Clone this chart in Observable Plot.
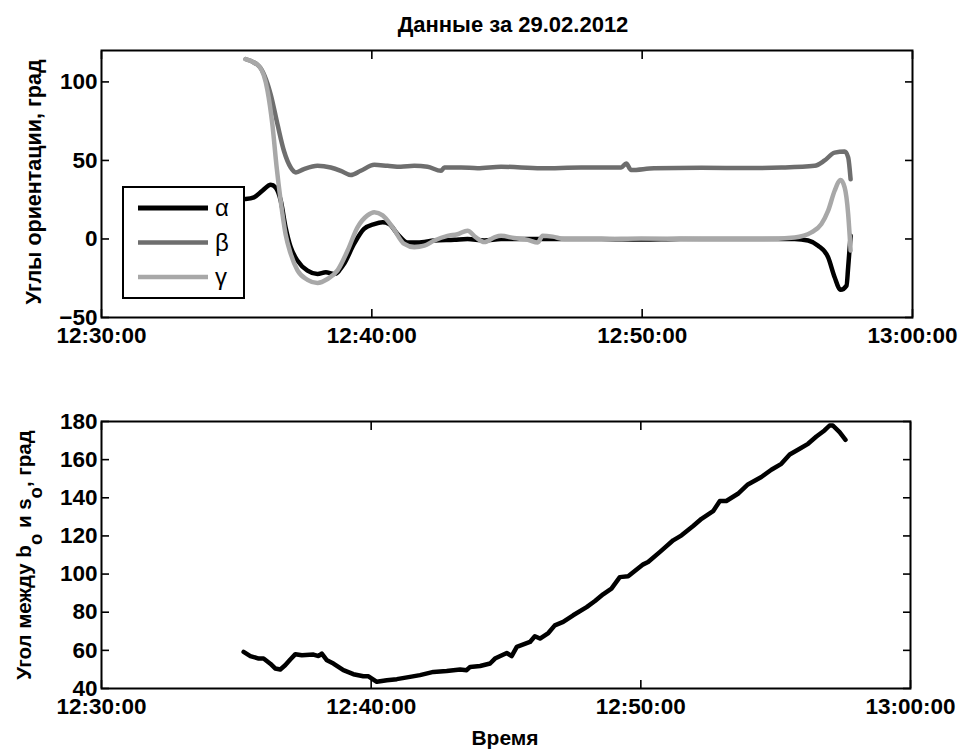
<!DOCTYPE html>
<html>
<head>
<meta charset="utf-8">
<script src="https://cdn.jsdelivr.net/npm/d3@7"></script>
<script src="https://cdn.jsdelivr.net/npm/@observablehq/plot@0.6"></script>
<style>
  html, body { margin: 0; padding: 0; background: #fff; }
  #wrap { position: relative; width: 960px; height: 751px; font-family: "Liberation Sans", Arial, sans-serif; overflow: hidden; }
  .abs { position: absolute; }
  #title { left: 0; width: 1026px; top: 12px; text-align: center; font-weight: bold; font-size: 22px; }
  #xlabel { left: 0; width: 1010px; top: 726px; text-align: center; font-weight: bold; font-size: 21px; }
  #legend { left: 122px; top: 186px; width: 119px; height: 109px; border: 2px solid #000; background: #fff; }
</style>
</head>
<body>
<div id="wrap">
  <div id="title" class="abs">Данные за 29.02.2012</div>
  <div id="p1" class="abs" style="left:0;top:0"></div>
  <div id="p2" class="abs" style="left:0;top:370px"></div>
  <div id="legend" class="abs"></div>
  <div id="xlabel" class="abs">Время</div>
</div>
<script>
// ---- data (time as minutes after 12:30:00) ----
const startTime = "2012-02-29T12:30:00Z";
const endTime = "2012-02-29T13:00:00Z";
const xTickMinutes = [0, 10, 20, 30];
const topYTicks = [-50, 0, 50, 100];
const bottomYTicks = [40, 60, 80, 100, 120, 140, 160, 180];

const seriesNames = ["α", "β", "γ"];
const seriesColors = ["#000000", "#6e6e6e", "#a8a8a8"];

const alphaT = [5.33,5.64,5.95,6.26,6.44,6.63,6.81,7.0,7.25,7.62,7.99,8.30,8.60,8.97,9.34,9.71,10.09,10.40,10.64,10.95,11.32,11.69,12.31,13.05,13.54,14.16,14.78,15.77,17.1,18.5,20.0,21.4,22.9,24.4,25.64,26.14,26.51,26.88,27.12,27.34,27.56,27.62,27.71];
const alphaV = [25.4,26.5,30.7,34.5,32.8,24.4,7.4,-5.3,-13.8,-20.2,-22.3,-21.2,-22.3,-15.9,-3.2,6.4,9.5,10.6,9.5,3.2,-2.2,-2.2,-1,-0.5,0,-1,0,0,0,0,-0.3,0,0,0,0,-1,-4.3,-11.7,-24.4,-32.4,-29.7,-18,2];

const betaT = [5.33,5.83,6.26,6.51,6.75,7.0,7.19,7.49,7.99,8.48,8.85,9.22,9.59,10.09,10.58,11.07,11.57,12.06,12.56,12.68,13.30,13.91,14.78,16.26,17.74,19.22,19.41,19.59,20.44,22.19,24.04,25.15,26.38,26.75,27.12,27.49,27.62,27.71];
const betaV = [114.5,110,92,73,56,45.5,42.4,44.5,46.6,45.5,43.4,40.7,43.4,47.2,46.6,46,46.6,46,43.4,45.5,45.5,45.1,46,45,45.5,45.5,48,43.9,45,45.3,45.2,45.5,46.6,50,55,55.7,52,38];

const gammaT = [5.33,5.83,6.14,6.32,6.48,6.63,6.81,7.0,7.25,7.62,7.99,8.36,8.73,9.10,9.47,9.84,10.09,10.40,10.77,11.20,11.57,11.94,12.31,12.80,13.17,13.54,13.85,14.16,14.53,14.78,15.26,15.77,16.14,16.32,16.69,17.12,18.48,19.96,22.19,24.4,25.64,26.26,26.63,26.88,27.12,27.34,27.49,27.62,27.71];
const gammaV = [114.5,110,94.5,73,45.5,24,3,-9.5,-20,-26,-28,-25.5,-20,-7.5,7.4,15,17,15,7.4,-3.2,-5.3,-4.3,-1,2,3,5.3,1,-2,1,2,0.6,-0.6,-2.2,2.1,1.5,0,0,0.3,0,0,1,4.2,9.5,18,30.7,37.5,32.8,15.9,-7.4];

const angleT = [5.27,5.52,5.83,6.01,6.26,6.44,6.63,6.81,7.0,7.19,7.43,7.86,8.05,8.17,8.36,8.60,8.97,9.34,9.71,9.90,10.21,10.58,10.95,11.44,11.81,12.31,12.80,13.30,13.54,13.67,14.04,14.41,14.59,15.03,15.21,15.40,15.89,16.07,16.26,16.57,16.81,17.12,17.49,17.99,18.30,18.60,18.91,19.22,19.53,20.09,20.27,20.70,21.20,21.51,21.94,22.25,22.68,22.93,23.17,23.60,23.97,24.47,24.84,25.21,25.52,25.89,26.20,26.51,26.81,27.0,27.12,27.37,27.59];
const angleV = [59.2,57,55.7,55.7,53,50.5,50,52.2,55.2,58,57.4,57.8,57,58.3,54.8,53.1,49.6,47.5,46.4,46.4,43.5,44.3,44.9,46.1,47,48.7,49.2,50,49.6,51.3,51.8,53.1,55.7,58.6,57,61.8,64.4,67.4,66.2,69.1,73.1,74.9,78.4,82.7,85.9,89.4,92.4,98.4,98.8,105.1,106.3,111.5,117.7,120.3,125.2,129,133,138.3,138.3,142.1,147,150.9,154.7,157.8,162.7,165.7,168.3,172.1,175.3,177.9,177.9,174.4,170.4];

// ---- build tables ----
const t0 = new Date(startTime);
const toDate = m => new Date(t0.getTime() + m * 60000);
const xDomain = [new Date(startTime), new Date(endTime)];
const xTicks = xTickMinutes.map(toDate);
const fmt = d3.utcFormat("%H:%M:%S");

const topData = [];
[[alphaT, alphaV], [betaT, betaV], [gammaT, gammaV]].forEach(([T, V], i) => {
  T.forEach((m, j) => topData.push({time: toDate(m), value: V[j], series: seriesNames[i]}));
});
const bottomData = angleT.map((m, j) => ({time: toDate(m), value: angleV[j]}));

const font = {fontSize: 22.5, fontWeight: "bold", fontFamily: "Liberation Sans, Arial, sans-serif"};

function frameAxes(yTicks) {
  return [
    Plot.axisX(xTicks, {anchor: "bottom", tickSize: 0, tickPadding: 10, tickFormat: fmt, label: null, ...font, fill: "#000"}),
    Plot.axisX(xTicks, {anchor: "bottom", tickSize: -8, fill: "none", label: null, strokeWidth: 1.6}),
    Plot.axisX(xTicks, {anchor: "top", tickSize: -8, fill: "none", label: null, strokeWidth: 1.6}),
    Plot.axisY(yTicks, {anchor: "left", tickSize: 0, tickPadding: 4, label: null, ...font, fill: "#000"}),
    Plot.axisY(yTicks, {anchor: "left", tickSize: -8, fill: "none", label: null, strokeWidth: 1.6}),
    Plot.axisY(yTicks, {anchor: "right", tickSize: -8, fill: "none", label: null, strokeWidth: 1.6}),
    Plot.frame({stroke: "#000", strokeWidth: 2})
  ];
}

const plot1 = Plot.plot({
  width: 960, height: 360,
  marginTop: 50, marginBottom: 43, marginLeft: 101, marginRight: 48,
  style: {background: "transparent", overflow: "visible"},
  x: {type: "utc", domain: xDomain},
  y: {domain: [-50, 120]},
  color: {domain: seriesNames, range: seriesColors},
  marks: [
    Plot.line(topData, {x: "time", y: "value", z: "series", stroke: "series", strokeWidth: 4.5, curve: "monotone-x", strokeLinejoin: "round"}),
    ...frameAxes(topYTicks)
  ]
});
document.getElementById("p1").appendChild(plot1);

const plot2 = Plot.plot({
  width: 960, height: 381,
  marginTop: 51, marginBottom: 63, marginLeft: 101, marginRight: 50,
  style: {background: "transparent", overflow: "visible"},
  x: {type: "utc", domain: xDomain},
  y: {domain: [40, 180]},
  marks: [
    Plot.line(bottomData, {x: "time", y: "value", stroke: "#000", strokeWidth: 4.5, strokeLinejoin: "round"}),
    ...frameAxes(bottomYTicks)
  ]
});
document.getElementById("p2").appendChild(plot2);

// y-axis titles (with subscripts for the lower one)
function addYTitle(svg, x, y, size, parts) {
  const t = d3.select(svg).append("text")
    .attr("transform", `translate(${x},${y}) rotate(-90)`)
    .attr("text-anchor", "middle")
    .attr("font-family", "Liberation Sans, Arial, sans-serif")
    .attr("font-weight", "bold")
    .attr("font-size", size)
    .attr("fill", "#000");
  parts.forEach(p => {
    const s = t.append("tspan").text(p.text);
    if (p.sub) s.attr("baseline-shift", "sub").attr("font-size", size - 2);
  });
}
addYTitle(plot1, 41, 182, 21.5, [{text: "Углы ориентации, град"}]);
addYTitle(plot2, 31, 185, 20.5, [
  {text: "Угол между b"}, {text: "o", sub: true}, {text: " и s"}, {text: "o", sub: true}, {text: ", град"}
]);

// legend
const lg = d3.select("#legend").append("svg").attr("width", 119).attr("height", 109);
seriesNames.forEach((name, i) => {
  const y = 20 + i * 34.5;
  lg.append("line").attr("x1", 14).attr("x2", 84).attr("y1", y).attr("y2", y)
    .attr("stroke", seriesColors[i]).attr("stroke-width", i === 0 ? 5 : 4.5);
  lg.append("text").attr("x", 91).attr("y", y).attr("dy", "0.35em")
    .attr("font-family", "Liberation Sans, Arial, sans-serif").attr("font-size", 24)
    .attr("fill", "#000").text(name);
});
</script>
</body>
</html>
